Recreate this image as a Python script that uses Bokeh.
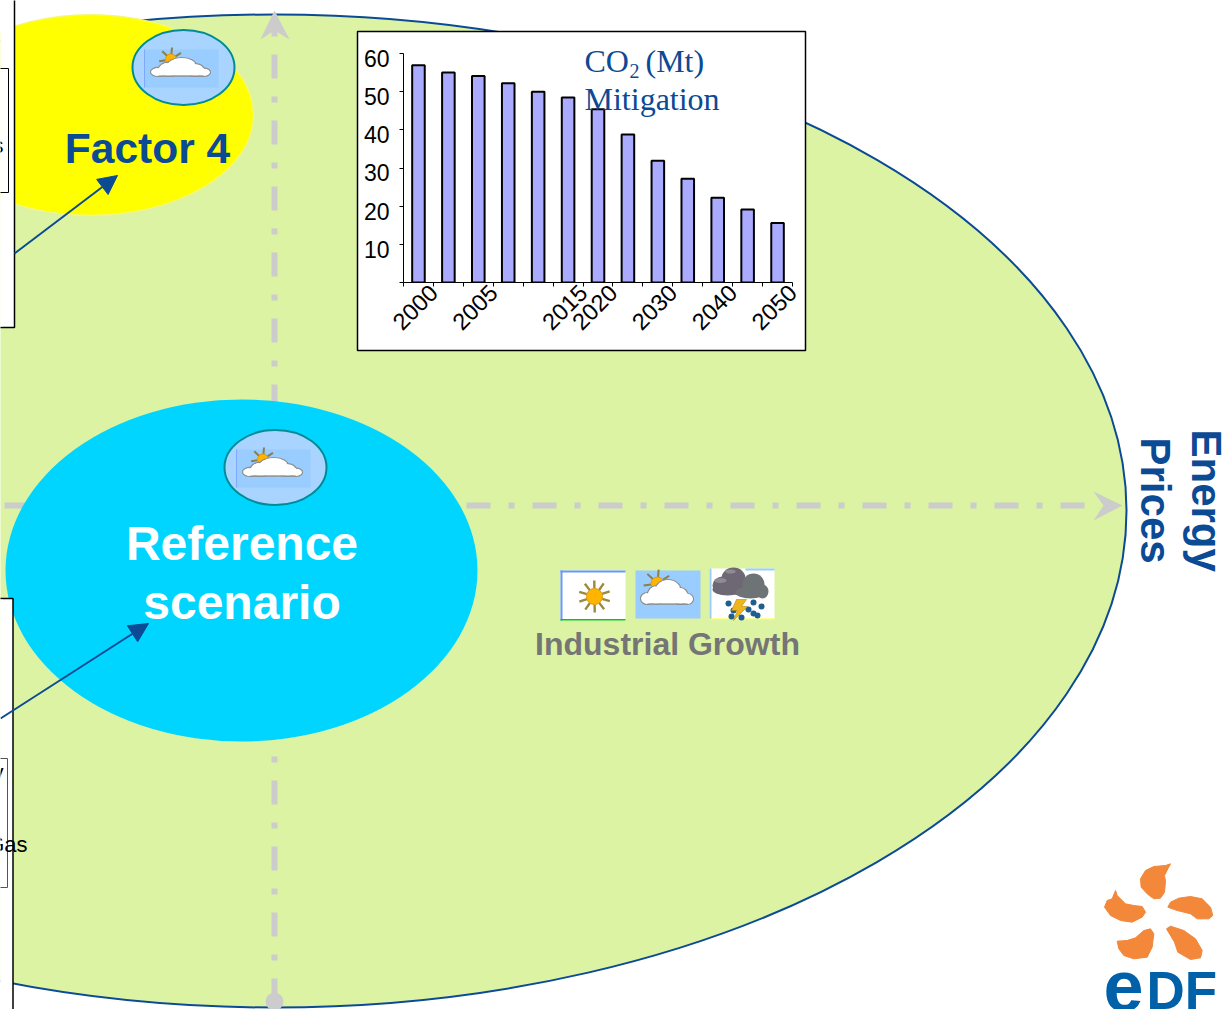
import numpy as np
from bokeh.embed import file_html
from bokeh.layouts import column
from bokeh.models import Arrow, FixedTicker, LinearAxis, NormalHead, Range1d
from bokeh.plotting import figure
from bokeh.resources import INLINE
from bokeh.core.properties import value

# Mitigation series of the inset bar chart
periods = ["2000", "", "2005", "", "", "2015", "2020", "", "2030", "", "2040", "", "2050"]
co2_mt = [56.9, 55.0, 54.1, 52.2, 50.0, 48.5, 45.4, 38.8, 31.9, 27.2, 22.2, 19.1, 15.6]
co2_ticks = [10, 20, 30, 40, 50, 60]

# Colours
GREEN = "#DBF3A2"
NAVY = "#0B4A94"
GREY = "#CCCCCC"
YELLOW = "#FFFF00"
CYAN = "#00D5FF"
SKY = "#99CCFF"
SKY_PALE = "#A8D4FF"
TEAL = "#008B96"
ORANGE = "#F3873A"
EDF_BLUE = "#0060A8"
SANS = value("Liberation Sans")
SERIF = value("Liberation Serif")

W, H = 1225, 1009
p = figure(width=W, height=H, x_range=Range1d(0, W), y_range=Range1d(H, 0),
           output_backend="svg", toolbar_location=None, min_border=0, frame_align=False,
           x_axis_location=None, y_axis_location=None)
p.grid.visible = False
p.outline_line_color = None
p.background_fill_color = "white"
p.border_fill_color = "white"


def box(x0, x1, y0, y1, fill, line=None, width=1.0):
    p.quad(left=[x0], right=[x1], top=[y0], bottom=[y1], fill_color=fill,
           line_color=line, line_width=width)


def blobs(lobes, fill, line=None, width=1.0):
    xs, ys, rx, ry = zip(*lobes)
    p.ellipse(x=list(xs), y=list(ys), width=[2 * r for r in rx], height=[2 * r for r in ry],
              fill_color=fill, line_color=line, line_width=width)


def sun(cx, cy, r, ray, ray_color="#8A7F4A", n=10, start=0.0, ray_width=2.0):
    a = start + np.arange(n) * 2 * np.pi / n
    p.segment(x0=cx + r * np.cos(a), y0=cy + r * np.sin(a),
              x1=cx + ray * np.cos(a), y1=cy + ray * np.sin(a),
              line_color=ray_color, line_width=ray_width)
    p.circle(x=[cx], y=[cy], radius=r, fill_color="#FFB400", line_color="#E09A00", line_width=1)


def cloud(x0, x1, y0, y1):
    w, h = x1 - x0, y1 - y0
    unit = [(0.13, 0.76, 0.13, 0.24), (0.30, 0.62, 0.17, 0.38), (0.52, 0.46, 0.25, 0.46),
            (0.75, 0.66, 0.15, 0.34), (0.89, 0.78, 0.11, 0.22)]
    lobes = [(x0 + a * w, y0 + b * h, c * w, d * h) for a, b, c, d in unit]
    blobs(lobes, "white", "#8C8C8C", 1.2)
    inner = [(x, y, rx - 1, ry - 1) for x, y, rx, ry in lobes]
    blobs(inner, "white")
    box(x0 + 0.13 * w, x1 - 0.11 * w, y0 + 0.55 * h, y1 - 1, "white")
    p.segment(x0=[x0 + 0.13 * w], y0=[y1 - 0.3], x1=[x1 - 0.11 * w], y1=[y1 - 0.3],
              line_color="#8C8C8C", line_width=1.2)


def partly_cloudy_badge(cx, cy):
    p.ellipse(x=[cx], y=[cy], width=[102], height=[75], fill_color=SKY_PALE,
              line_color=TEAL, line_width=2)
    box(cx - 39, cx + 35, cy - 18, cy + 20, SKY)
    p.segment(x0=[cx - 39], y0=[cy - 18], x1=[cx - 39], y1=[cy + 20],
              line_color="#7FA8FF", line_width=1)
    sun(cx - 12.5, cy - 8, 5.5, 12, n=7, start=3.0)
    cloud(cx - 33, cx + 27, cy - 10, cy + 9)


def open_panel(x_edge, y_top, y_bottom, line, width):
    """White panel running off the left edge of the page, with its visible edges."""
    box(-3, x_edge, y_top, y_bottom, "white")
    p.line(x=[-3, x_edge, x_edge, -3], y=[y_top, y_top, y_bottom, y_bottom],
           line_color=line, line_width=width)
    p.segment(x0=[0.5], y0=[y_top + 1], x1=[0.5], y1=[y_bottom - 1], line_color="white", line_width=3)


# Main ellipse and the two dash-dotted axes
p.ellipse(x=[274], y=[510.5], width=[1704], height=[993], fill_color=GREEN,
          line_color=NAVY, line_width=2)
p.line(x=[4, 1085], y=[505, 505], line_color=GREY, line_width=6, line_dash="24 18 6 18")
p.line(x=[274, 274], y=[1002, 30], line_color=GREY, line_width=6, line_dash="24 18 6 18")
p.patch(x=[1122, 1093, 1103, 1093], y=[505, 491, 505, 520], fill_color=GREY, line_color=None)
p.patch(x=[274, 260, 274, 289], y=[10, 39, 30, 39], fill_color=GREY, line_color=None)
p.circle(x=[274], y=[1001], radius=9, fill_color=GREY, line_color=None)

# Scenario ellipses
p.ellipse(x=[90], y=[114.5], width=[326], height=[201], fill_color=YELLOW,
          line_color="#F4F77E", line_width=1.2)
p.ellipse(x=[241], y=[570], width=[472], height=[342], fill_color=CYAN, line_color=None)
partly_cloudy_badge(183, 67)
partly_cloudy_badge(275, 467)

# Panels cut by the left edge of the page
p.add_layout(Arrow(end=NormalHead(size=19, fill_color=NAVY, line_color=NAVY), x_start=14, y_start=253,
                   x_end=117, y_end=175, line_color=NAVY, line_width=2))
open_panel(14, -2, 327, "black", 1.5)
open_panel(8, 68, 192, "black", 1)
open_panel(12.5, 598, 1015, "black", 1.5)
open_panel(7, 758, 887, "#555555", 1)
p.add_layout(Arrow(end=NormalHead(size=19, fill_color=NAVY, line_color=NAVY), x_start=0, y_start=718,
                   x_end=148, y_end=623, line_color=NAVY, line_width=2))

p.text(x=[3, 3, 27], y=[145, 772, 844], text=["s", "y", "Gas"], text_font=SANS,
       text_font_size="22px", text_align="right", text_baseline="alphabetic", text_color="black")

# Weather icons above the Industrial Growth caption
box(560, 625, 570, 620, "white")
box(560, 625, 570, 572, "#6699FF")
box(560, 562, 570, 620, "#6699FF")
box(560, 625, 618.5, 620, "#00CC00")
sun(594, 596, 8, 16, ray_color="#9A8A3A", n=10, start=0.3, ray_width=2.4)

box(635, 700, 570, 618, SKY)
sun(657, 583, 6.5, 14, n=7, start=3.0)
cloud(640, 693, 579, 604)

box(709, 774, 568, 619, "white")
box(745, 774, 568, 570, SKY)
box(709, 711, 568, 619, SKY)
box(709, 774, 618, 619.5, "#FFFF33")
blobs([(722, 585, 10, 9), (733, 578, 12, 11), (727, 589, 15, 6), (738, 586, 8, 9)], "#6D6874")
blobs([(753, 584, 11, 11), (762, 591, 6, 7), (750, 592, 15, 6)], "#6E7375")
blobs([(720, 580, 6, 2.5), (730, 571, 5, 2)], "#8F8B95")
drop_x = [728, 733, 753, 761, 748, 753, 741, 731, 757]
drop_y = [603, 610, 602, 606, 609, 613, 617, 616, 615]
p.scatter(x=drop_x, y=drop_y, size=6, marker="circle", fill_color="#1F5F8F", line_color=None)
p.patch(x=[736, 746, 741, 747, 733, 737, 731], y=[599, 599, 606, 606, 620, 610, 610],
        fill_color="#F0B41E", line_color="#B8860B", line_width=0.6)

# Scenario captions
p.text(x=[147], y=[148], text=["Factor 4"], text_font=SANS, text_font_style="bold",
       text_font_size="42.5px", text_color=NAVY, text_align="center", text_baseline="middle")
p.text(x=[241.5, 241.5], y=[543, 602], text=["Reference", "scenario"], text_font=SANS,
       text_font_style="bold", text_font_size="48px", text_color="white",
       text_align="center", text_baseline="middle")
p.text(x=[667], y=[643], text=["Industrial Growth"], text_font=SANS, text_font_style="bold",
       text_font_size="32px", text_color="#757575", text_align="center", text_baseline="middle")
p.text(x=[1206, 1154.5], y=[429, 437], text=["Energy", "Prices"], angle=-np.pi / 2,
       text_font=SANS, text_font_style="bold", text_font_size="42px", text_color=NAVY,
       text_align="left", text_baseline="alphabetic")

# EDF mark
petals = [
    [(240, 40), (225, 45), (190, 48), (165, 60), (150, 85), (152, 110), (170, 130), (190, 145),
     (210, 143), (222, 125), (225, 92), (222, 75), (232, 55)],
    [(232, 170), (240, 155), (265, 143), (300, 138), (335, 145), (360, 170), (367, 195),
     (355, 205), (320, 205), (300, 190), (260, 180)],
    [(75, 120), (80, 135), (105, 160), (130, 165), (155, 168), (165, 185), (155, 200),
     (125, 215), (90, 210), (60, 195), (42, 170), (50, 150), (65, 145)],
    [(80, 272), (110, 270), (135, 262), (160, 240), (180, 235), (190, 250), (185, 290),
     (170, 320), (130, 325), (100, 315), (85, 295)],
    [(228, 235), (240, 227), (280, 240), (315, 265), (335, 300), (330, 322), (300, 327),
     (262, 305), (252, 275)],
]
p.patches(xs=[[1090 + a / 3 for a, _ in pet] for pet in petals],
          ys=[[850 + b / 3 for _, b in pet] for pet in petals],
          fill_color=ORANGE, line_color=ORANGE, line_width=1, line_join="round")
p.text(x=[1103], y=[985], text=["e"], text_font=SANS, text_font_style="bold",
       text_font_size="72px", text_color=EDF_BLUE, text_align="left", text_baseline="alphabetic")
p.text(x=[1146], y=[990], text=["DF"], text_font=SANS, text_font_style="bold",
       text_font_size="53px", text_color=EDF_BLUE, text_align="left", text_baseline="alphabetic")

# Frame behind the inset bar chart
box(357, 805, 31, 350, "white", "black", 1.5)

# Inset bar chart, laid over the diagram
IN_L, IN_T, IN_W, IN_H = 359, 33, 445, 316
FRAME_L, FRAME_R, FRAME_T, FRAME_B = 403, 792, 53, 282
inset = figure(width=IN_W, height=IN_H, x_range=Range1d(0, len(periods)), y_range=Range1d(0, 60),
               output_backend="svg", toolbar_location=None, frame_align=False,
               x_axis_location=None, y_axis_location=None,
               min_border_left=FRAME_L - IN_L, min_border_right=IN_L + IN_W - FRAME_R,
               min_border_top=FRAME_T - IN_T, min_border_bottom=IN_T + IN_H - FRAME_B,
               styles={"position": "absolute", "left": f"{IN_L}px", "top": f"{IN_T}px"})
inset.grid.visible = False
inset.outline_line_color = None
inset.background_fill_alpha = 0
inset.border_fill_alpha = 0

slots = [i + 0.5 for i in range(len(periods))]
inset.vbar(x=slots, top=co2_mt, width=0.42, bottom=0, fill_color="#AAAAFF",
           line_color="black", line_width=2)

edges = list(range(len(periods) + 1))
x_axis = LinearAxis(
    ticker=FixedTicker(ticks=edges[1:], minor_ticks=edges),
    major_label_overrides={i + 1: lab for i, lab in enumerate(periods)},
    major_label_orientation=np.pi / 4,
    major_label_text_font="Liberation Sans", major_label_text_font_size="23.5px",
    major_label_text_color="black", major_label_standoff=2,
    major_tick_in=0, major_tick_out=0, minor_tick_in=0, minor_tick_out=4,
    minor_tick_line_color="black", axis_line_color="black")
inset.add_layout(x_axis, "below")

# Tick labels sit slightly below their tick marks
LABEL_DROP = 1.3
y_axis = LinearAxis(
    ticker=FixedTicker(ticks=[t - LABEL_DROP for t in co2_ticks], minor_ticks=[0] + co2_ticks),
    major_label_overrides={t - LABEL_DROP: str(t) for t in co2_ticks},
    major_label_text_font="Liberation Sans", major_label_text_font_size="23px",
    major_label_text_color="black", major_label_standoff=10,
    major_tick_in=0, major_tick_out=0, minor_tick_in=0, minor_tick_out=4,
    minor_tick_line_color="black", axis_line_color="black")
inset.add_layout(y_axis, "left")

# Chart title on its own transparent layer, so it can rise above the plot area
CAP_L, CAP_T, CAP_R, CAP_B = 359, 33, 804, 130
caption = figure(width=CAP_R - CAP_L, height=CAP_B - CAP_T,
                 x_range=Range1d(CAP_L, CAP_R), y_range=Range1d(CAP_B, CAP_T),
                 output_backend="svg", toolbar_location=None, frame_align=False, min_border=0,
                 x_axis_location=None, y_axis_location=None,
                 styles={"position": "absolute", "left": f"{CAP_L}px", "top": f"{CAP_T}px"})
caption.grid.visible = False
caption.outline_line_color = None
caption.background_fill_alpha = 0
caption.border_fill_alpha = 0
caption.text(x=[584, 645, 584], y=[60, 60, 98], text=["CO", "(Mt)", "Mitigation"], text_font=SERIF,
             text_font_size="32px", text_color=NAVY, text_baseline="alphabetic")
caption.text(x=[629], y=[70], text=["2"], text_font=SERIF, text_font_size="20px",
             text_color=NAVY, text_baseline="alphabetic")

page = column(p, inset, caption, width=W, height=H)
open("out.html", "w").write(file_html(page, INLINE))
